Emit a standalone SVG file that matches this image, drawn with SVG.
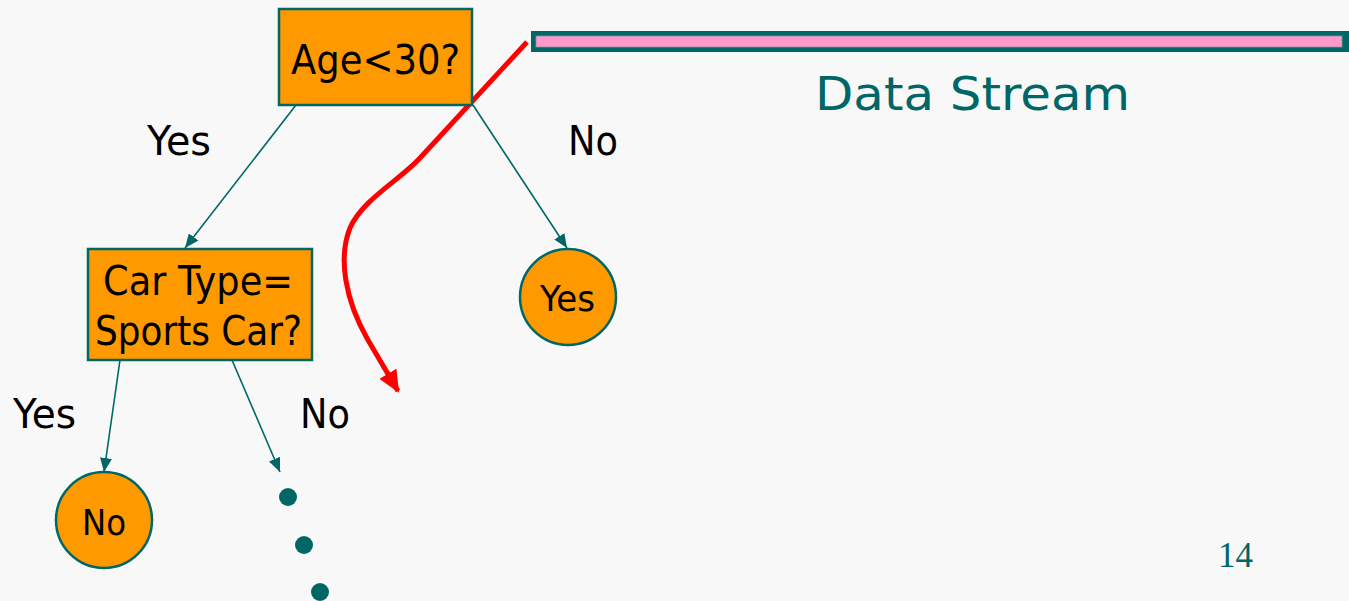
<svg xmlns="http://www.w3.org/2000/svg" width="1349" height="601" viewBox="0 0 1349 601">
<style>
.box{fill:#ff9900;stroke:#006666;stroke-width:2.5}
.conn{stroke:#006666;stroke-width:1.6;fill:none}
.t{font-family:"DejaVu Sans","Liberation Sans",sans-serif;fill:#000}
.dot{fill:#006666}
</style>
<defs>
<marker id="ah" viewBox="0 0 14 12" refX="14" refY="6" markerWidth="14" markerHeight="12" markerUnits="userSpaceOnUse" orient="auto">
<path d="M0,0 L14,6 L0,12 Z" fill="#006666"/>
</marker>
<marker id="rah" viewBox="0 0 22 20" refX="20" refY="10" markerWidth="22" markerHeight="20" markerUnits="userSpaceOnUse" orient="auto">
<path d="M0,0 L22,10 L0,20 Z" fill="#ff0000"/>
</marker>
</defs>
<rect width="1349" height="601" fill="#f8f8f8"/>

<g id="stream">
<rect x="531" y="31" width="818" height="21" fill="#006666"/>
<rect x="536" y="36" width="806" height="11" fill="#ff99cc" stroke="#7a9a9a" stroke-width="0.8"/>
<text x="815" y="110" font-family="'Comic Sans MS','DejaVu Sans',sans-serif" font-size="46" fill="#006666" textLength="315" lengthAdjust="spacingAndGlyphs">Data Stream</text>
</g>

<g id="connectors">
<line class="conn" x1="296" y1="105" x2="185" y2="248" marker-end="url(#ah)"/>
<line class="conn" x1="473" y1="105" x2="567" y2="248" marker-end="url(#ah)"/>
<line class="conn" x1="120" y1="360" x2="104" y2="472" marker-end="url(#ah)"/>
<line class="conn" x1="232" y1="360" x2="280" y2="472" marker-end="url(#ah)"/>
<path d="M527,42 L420,158 C400,180 362,200 350,228 C338,258 345,300 368,340 L398,391" fill="none" stroke="#ff0000" stroke-width="5" marker-end="url(#rah)"/>
</g>

<g id="age">
<rect class="box" x="279" y="9" width="193" height="96"/>
<text class="t" x="291" y="74" font-size="41" textLength="169" lengthAdjust="spacingAndGlyphs">Age&lt;30?</text>
</g>

<g id="cartype">
<rect class="box" x="88" y="249" width="224" height="111"/>
<text class="t" x="103" y="295" font-size="41" textLength="190" lengthAdjust="spacingAndGlyphs">Car Type=</text>
<text class="t" x="95" y="345" font-size="41" textLength="207" lengthAdjust="spacingAndGlyphs">Sports Car?</text>
</g>

<g id="leafYes">
<circle class="box" cx="568" cy="297" r="48"/>
<text class="t" x="540" y="311" font-size="35" textLength="55" lengthAdjust="spacingAndGlyphs">Yes</text>
</g>

<g id="leafNo">
<circle class="box" cx="104" cy="520" r="48"/>
<text class="t" x="82" y="535" font-size="36" textLength="44" lengthAdjust="spacingAndGlyphs">No</text>
</g>

<g id="labels">
<text class="t" x="147" y="155" font-size="40" textLength="64" lengthAdjust="spacingAndGlyphs">Yes</text>
<text class="t" x="568" y="155" font-size="40" textLength="50" lengthAdjust="spacingAndGlyphs">No</text>
<text class="t" x="13" y="428" font-size="40" textLength="63" lengthAdjust="spacingAndGlyphs">Yes</text>
<text class="t" x="300" y="428" font-size="40" textLength="50" lengthAdjust="spacingAndGlyphs">No</text>
</g>

<g id="dots">
<circle class="dot" cx="288" cy="497" r="9"/>
<circle class="dot" cx="304" cy="545" r="9"/>
<circle class="dot" cx="320" cy="592" r="9"/>
</g>

<text x="1218" y="567" font-family="'Liberation Serif','Times New Roman',serif" font-size="35" fill="#006666">14</text>
</svg>
